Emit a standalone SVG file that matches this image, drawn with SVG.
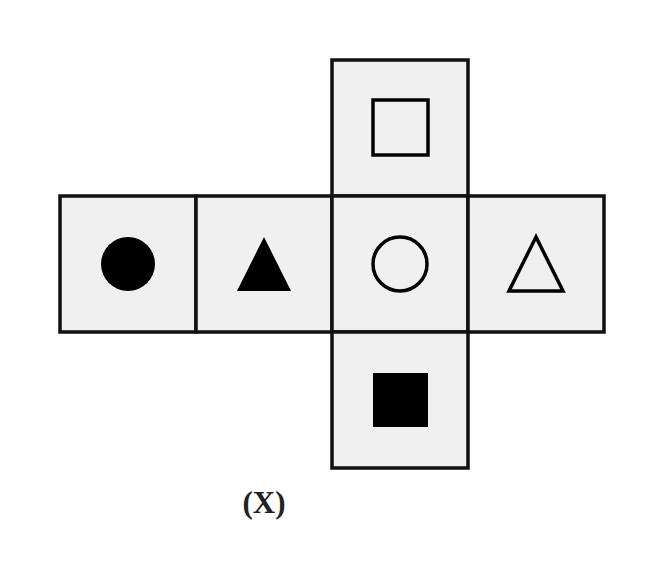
<svg xmlns="http://www.w3.org/2000/svg" width="664" height="588" viewBox="0 0 664 588">
<style>
.cell{fill:#f0f0f0;stroke:#111;stroke-width:3.5}
.hollow{fill:none;stroke:#000;stroke-width:3.5}
.solid{fill:#000}
.lbl{font-family:"Liberation Serif",serif;font-weight:bold;font-size:31px;fill:#222;text-anchor:middle}
</style>
<rect width="664" height="588" fill="#fff"/>
<g id="face-top"><rect class="cell" x="332" y="60" width="136" height="136"/><rect class="hollow" x="373" y="100" width="55" height="55"/></g>
<g id="face-left1"><rect class="cell" x="60" y="196" width="136" height="136"/><circle class="solid" cx="128" cy="264" r="27"/></g>
<g id="face-left2"><rect class="cell" x="196" y="196" width="136" height="136"/><polygon class="solid" points="264,237 237,291 291,291"/></g>
<g id="face-center"><rect class="cell" x="332" y="196" width="136" height="136"/><circle class="hollow" cx="400" cy="264" r="27"/></g>
<g id="face-right"><rect class="cell" x="468" y="196" width="136" height="136"/><polygon class="hollow" points="536,237 509,291 563,291"/></g>
<g id="face-bottom"><rect class="cell" x="332" y="332" width="136" height="136"/><rect class="solid" x="373" y="373" width="55" height="54"/></g>
<g id="connectors"></g>
<text class="lbl" x="264" y="513">(X)</text>
</svg>
